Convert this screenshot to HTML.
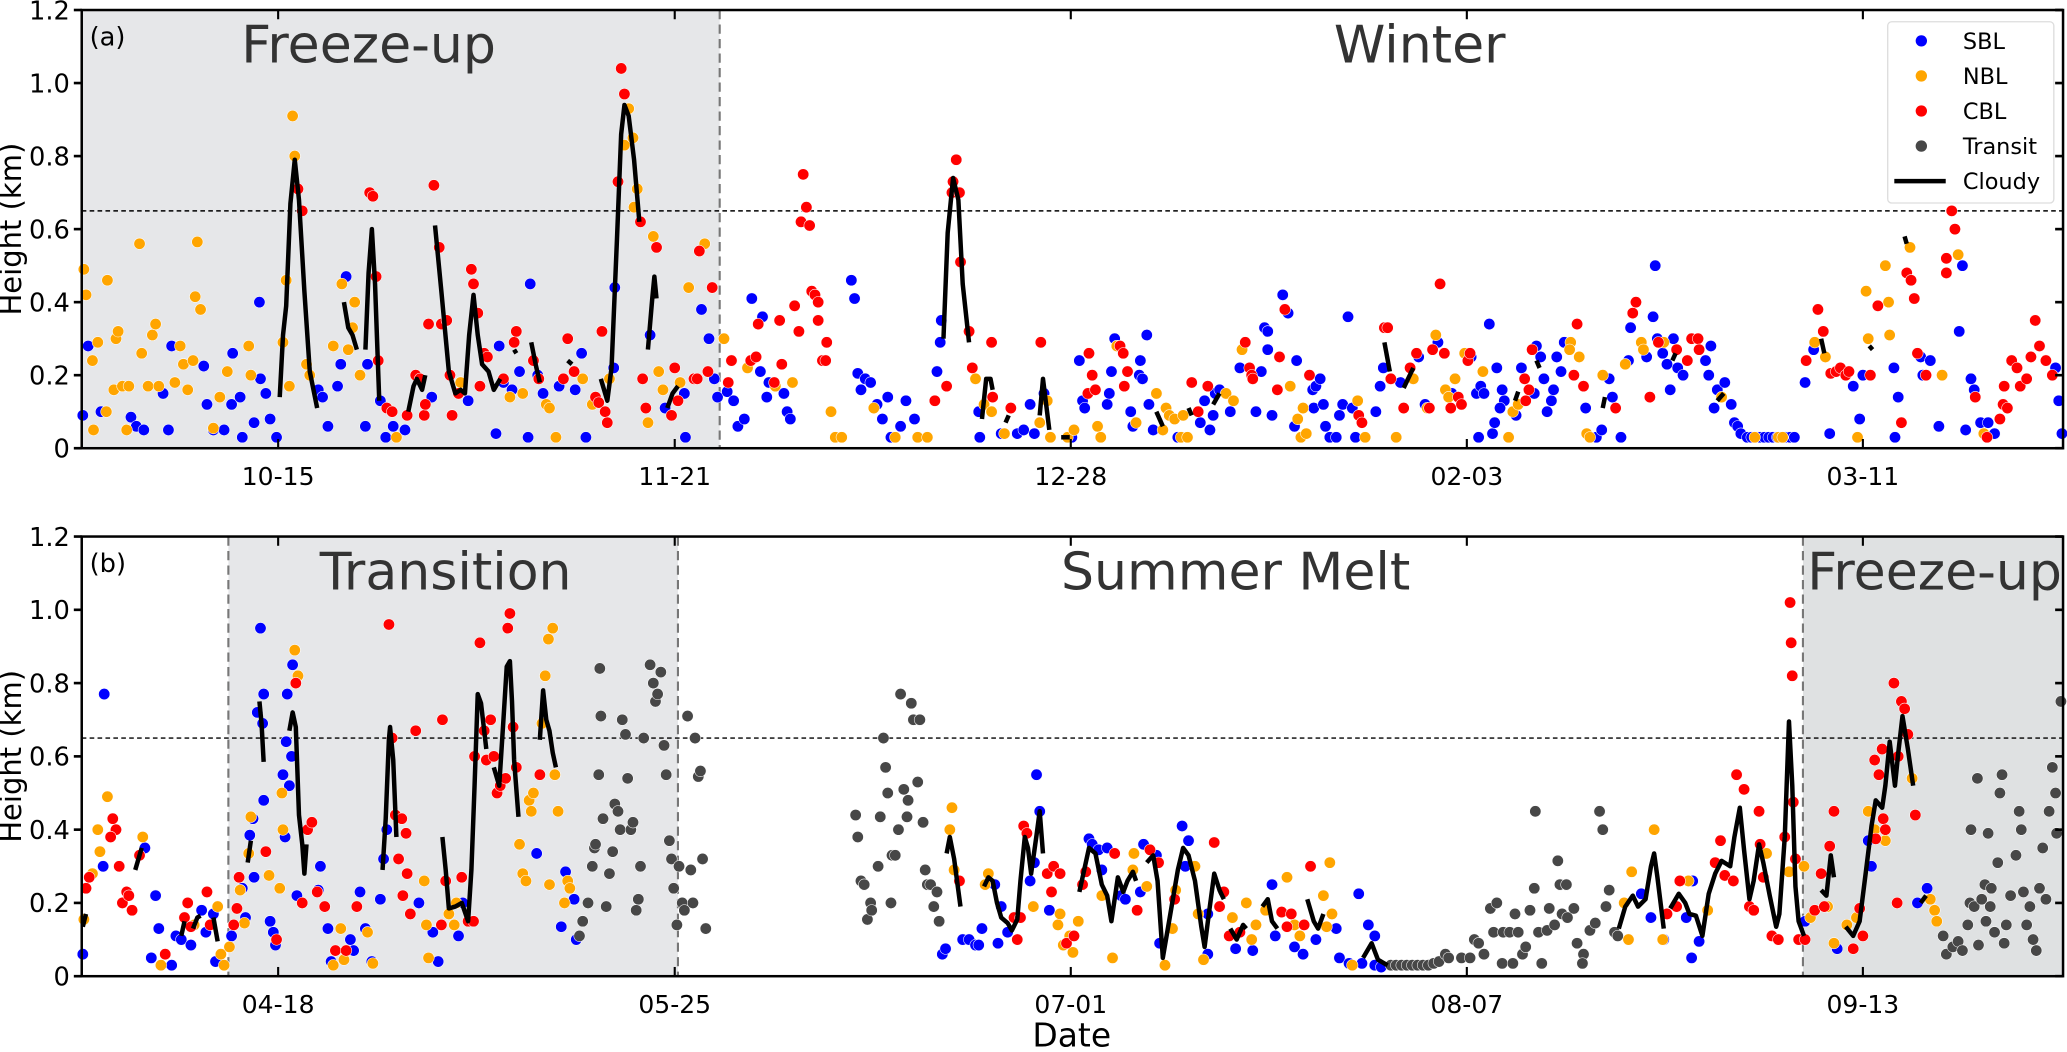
<!DOCTYPE html>
<html><head><meta charset="utf-8"><style>
html,body{margin:0;padding:0;background:#fff;}
svg{display:block;font-family:"DejaVu Sans","Liberation Sans",sans-serif;}
</style></head><body>
<svg id="chart" width="2067" height="1052" viewBox="0 0 1568 798" preserveAspectRatio="none" xmlns="http://www.w3.org/2000/svg">
<g id="root"></g>
</svg>
<script>
// ---------- data (day index from panel start, height km) ----------
const tickDaysA = [18.35, 55.4, 92.4, 129.4, 166.4];
const tickLabelsA = ["10-15","11-21","12-28","02-03","03-11"];
const tickLabelsB = ["04-18","05-25","07-01","08-07","09-13"];
const yTicks = [0,0.2,0.4,0.6,0.8,1.0,1.2];
const yTickLabels = ["0","0.2","0.4","0.6","0.8","1.0","1.2"];
const thresholdKm = 0.65;
const regionsA = [[0,59.6,"Freeze-up",true,26.8],[59.6,185.1,"Winter",false,125.0]];
const regionsB = [[0,13.7,"",false,0],[13.7,55.7,"Transition",true,34.0],[55.7,160.8,"Summer Melt",false,107.8],[160.8,185.1,"Freeze-up",true,173.1]];

const sblA = [[0.1,0.09],[0.6,0.28],[1.8,0.10],[4.6,0.085],[5.1,0.06],[5.8,0.05],[7.6,0.15],[8.1,0.05],[8.4,0.28],[11.4,0.225],[11.7,0.12],[12.3,0.05],[13.3,0.05],[14.0,0.12],[14.1,0.26],[14.8,0.14],[15.0,0.03],[16.1,0.07],[16.6,0.40],[16.7,0.19],[17.2,0.15],[17.6,0.08],[18.2,0.03],[22.1,0.16],[22.5,0.14],[23.0,0.06],[23.9,0.17],[24.2,0.23],[24.7,0.47],[26.5,0.06],[26.7,0.23],[27.9,0.13],[28.4,0.03],[29.1,0.06],[30.2,0.05],[32.7,0.14],[36.1,0.13],[38.7,0.04],[39.0,0.28],[39.4,0.18],[40.2,0.16],[40.9,0.21],[41.7,0.03],[41.9,0.45],[42.6,0.20],[43.1,0.15],[44.6,0.17],[46.1,0.16],[46.7,0.26],[47.1,0.03],[49.8,0.44],[49.7,0.22],[53.1,0.31],[54.5,0.11],[56.3,0.15],[56.4,0.03],[57.9,0.38],[58.6,0.30],[59.1,0.19],[59.4,0.14],[60.3,0.155],[60.9,0.13],[61.3,0.06],[61.9,0.08],[62.6,0.41],[63.4,0.21],[63.6,0.36],[64.0,0.14],[64.2,0.18],[65.6,0.15],[65.9,0.10],[66.2,0.08],[71.9,0.46],[72.2,0.41],[72.5,0.205],[72.8,0.16],[73.2,0.19],[73.7,0.18],[74.3,0.12],[74.8,0.08],[75.3,0.14],[75.6,0.03],[76.5,0.06],[77.0,0.13],[77.8,0.08],[79.9,0.21],[80.2,0.29],[80.3,0.35],[83.9,0.03],[83.8,0.10],[85.9,0.04],[87.4,0.04],[88.0,0.05],[88.6,0.12],[89.0,0.04],[89.9,0.15],[92.5,0.03],[93.2,0.24],[93.5,0.13],[93.7,0.11],[95.8,0.12],[96.0,0.15],[96.2,0.21],[96.5,0.30],[98.0,0.10],[98.2,0.06],[98.8,0.20],[98.9,0.24],[99.1,0.19],[99.5,0.31],[99.7,0.12],[100.1,0.05],[102.4,0.03],[104.5,0.07],[104.9,0.13],[105.4,0.05],[105.7,0.09],[105.9,0.15],[106.3,0.16],[107.3,0.10],[108.2,0.22],[109.7,0.10],[110.2,0.21],[110.5,0.33],[110.8,0.32],[110.8,0.27],[111.2,0.09],[112.2,0.42],[112.7,0.37],[113.3,0.06],[113.5,0.24],[115.0,0.16],[115.3,0.17],[115.7,0.19],[115.1,0.11],[116.0,0.12],[116.2,0.06],[116.6,0.03],[117.2,0.03],[117.5,0.09],[117.8,0.12],[118.3,0.36],[118.7,0.11],[119.0,0.03],[120.9,0.10],[121.3,0.17],[121.6,0.22],[123.2,0.18],[124.9,0.25],[125.5,0.12],[126.7,0.29],[128.0,0.15],[129.8,0.25],[130.3,0.15],[130.5,0.03],[130.7,0.17],[131.0,0.15],[131.5,0.34],[131.8,0.04],[132.0,0.07],[132.2,0.22],[132.7,0.16],[132.9,0.13],[132.5,0.11],[134.0,0.09],[134.5,0.22],[135.7,0.15],[135.9,0.28],[136.3,0.25],[136.6,0.19],[136.9,0.10],[137.3,0.13],[137.5,0.16],[137.8,0.25],[138.2,0.21],[138.5,0.29],[140.5,0.11],[141.5,0.03],[142.0,0.05],[142.7,0.19],[143.0,0.14],[143.8,0.03],[144.5,0.24],[144.7,0.33],[146.2,0.25],[146.8,0.36],[147.0,0.50],[147.2,0.30],[147.7,0.26],[148.1,0.23],[148.4,0.16],[148.7,0.30],[149.1,0.22],[149.6,0.20],[151.7,0.24],[152.0,0.20],[152.2,0.28],[152.5,0.11],[152.8,0.16],[153.5,0.18],[154.1,0.12],[154.4,0.07],[154.7,0.06],[155.0,0.04],[155.6,0.03],[156.0,0.03],[156.4,0.03],[156.8,0.03],[157.2,0.03],[157.6,0.03],[158.0,0.03],[158.4,0.03],[158.8,0.03],[159.2,0.03],[159.6,0.03],[160.0,0.03],[161.0,0.18],[161.8,0.27],[163.3,0.04],[165.5,0.17],[166.1,0.08],[166.4,0.20],[169.3,0.22],[169.4,0.03],[169.7,0.14],[171.8,0.25],[172.0,0.20],[172.7,0.24],[173.5,0.06],[175.4,0.32],[175.7,0.50],[176.0,0.05],[176.5,0.19],[176.8,0.16],[177.4,0.07],[178.1,0.07],[178.7,0.04],[184.4,0.22],[184.7,0.13],[185.0,0.04]];
const nblA = [[0.2,0.49],[0.4,0.42],[1.0,0.24],[1.1,0.05],[1.5,0.29],[2.3,0.10],[2.4,0.46],[3.0,0.16],[3.2,0.30],[3.4,0.32],[3.8,0.17],[4.2,0.05],[4.4,0.17],[5.4,0.56],[5.6,0.26],[6.2,0.17],[6.6,0.31],[6.9,0.34],[7.2,0.17],[8.7,0.18],[9.2,0.28],[9.5,0.23],[9.9,0.16],[10.4,0.24],[10.6,0.415],[10.8,0.565],[11.1,0.38],[12.3,0.055],[12.9,0.14],[13.6,0.21],[15.6,0.28],[15.8,0.20],[18.8,0.29],[19.1,0.46],[19.4,0.17],[19.7,0.91],[19.9,0.80],[21.0,0.23],[21.3,0.20],[23.5,0.28],[24.3,0.45],[24.9,0.27],[25.5,0.40],[25.3,0.33],[26.0,0.20],[29.4,0.03],[35.4,0.18],[40.0,0.14],[41.2,0.15],[43.4,0.12],[43.7,0.11],[44.3,0.03],[46.8,0.19],[47.7,0.12],[49.3,0.19],[50.7,0.83],[51.1,0.93],[51.5,0.85],[51.9,0.71],[51.6,0.66],[52.9,0.07],[53.4,0.58],[53.9,0.21],[54.3,0.16],[55.9,0.18],[56.7,0.44],[58.2,0.56],[60.0,0.30],[62.2,0.22],[64.8,0.17],[66.4,0.18],[70.0,0.10],[70.4,0.03],[71.0,0.03],[74.0,0.11],[76.0,0.03],[78.1,0.03],[79.0,0.03],[83.5,0.19],[84.3,0.12],[85.0,0.10],[86.2,0.04],[89.5,0.07],[90.2,0.13],[90.5,0.03],[92.1,0.03],[92.7,0.05],[94.9,0.06],[95.2,0.03],[96.7,0.28],[98.5,0.07],[100.4,0.15],[101.0,0.05],[101.3,0.11],[101.6,0.09],[102.1,0.08],[102.7,0.03],[102.9,0.09],[103.3,0.03],[106.9,0.15],[107.6,0.13],[108.4,0.27],[112.9,0.17],[113.6,0.08],[114.1,0.11],[113.9,0.03],[114.4,0.04],[119.2,0.13],[119.9,0.03],[122.8,0.03],[124.4,0.19],[125.7,0.11],[126.5,0.31],[127.4,0.16],[127.7,0.14],[128.3,0.19],[129.2,0.26],[130.9,0.21],[133.3,0.03],[133.7,0.10],[134.2,0.12],[139.1,0.29],[139.0,0.27],[139.9,0.25],[140.6,0.04],[140.9,0.03],[142.1,0.20],[144.2,0.23],[145.7,0.29],[145.9,0.27],[147.8,0.29],[151.1,0.27],[153.2,0.14],[156.3,0.03],[158.5,0.03],[158.9,0.03],[161.9,0.29],[162.9,0.25],[165.9,0.03],[166.7,0.43],[166.9,0.30],[168.5,0.50],[168.8,0.40],[168.9,0.31],[170.8,0.55],[173.8,0.20],[175.3,0.53],[177.7,0.04]];
const cblA = [[20.2,0.71],[20.6,0.65],[26.9,0.70],[27.2,0.69],[27.5,0.47],[27.7,0.24],[28.5,0.11],[29.0,0.10],[30.4,0.09],[31.2,0.20],[31.6,0.19],[32.0,0.09],[32.1,0.12],[32.4,0.34],[32.9,0.72],[33.4,0.55],[33.6,0.34],[34.1,0.35],[34.4,0.20],[34.6,0.09],[35.2,0.15],[36.4,0.49],[36.6,0.45],[37.0,0.37],[37.2,0.17],[37.6,0.26],[37.9,0.25],[39.4,0.19],[40.4,0.29],[40.6,0.32],[42.2,0.24],[42.7,0.19],[45.0,0.19],[45.4,0.30],[46.0,0.21],[48.0,0.14],[48.3,0.125],[48.6,0.32],[48.9,0.10],[49.1,0.07],[50.1,0.73],[50.4,1.04],[50.7,0.97],[52.2,0.62],[52.4,0.19],[52.7,0.11],[53.7,0.55],[55.1,0.09],[55.4,0.22],[55.7,0.13],[57.2,0.19],[57.5,0.19],[57.7,0.54],[58.5,0.21],[58.9,0.44],[60.4,0.18],[60.7,0.24],[62.5,0.24],[63.0,0.25],[63.2,0.34],[64.7,0.18],[65.2,0.35],[65.4,0.23],[66.6,0.39],[67.0,0.32],[67.2,0.62],[67.4,0.75],[67.7,0.66],[68.0,0.61],[68.2,0.43],[68.5,0.42],[68.8,0.40],[68.8,0.35],[69.2,0.24],[69.5,0.24],[69.6,0.29],[79.7,0.13],[80.8,0.17],[81.3,0.70],[81.4,0.73],[81.7,0.79],[82.0,0.70],[82.1,0.51],[82.9,0.32],[83.2,0.22],[85.0,0.29],[85.1,0.14],[86.8,0.11],[89.6,0.29],[94.0,0.15],[94.1,0.26],[94.4,0.20],[94.7,0.16],[97.0,0.28],[97.3,0.26],[97.4,0.17],[97.7,0.21],[103.7,0.18],[104.3,0.10],[105.2,0.17],[108.7,0.29],[109.1,0.22],[109.3,0.20],[109.4,0.19],[111.7,0.16],[111.9,0.25],[112.4,0.38],[114.7,0.20],[119.3,0.09],[119.6,0.07],[121.7,0.33],[122.0,0.33],[122.3,0.19],[123.5,0.11],[124.1,0.22],[124.7,0.26],[125.9,0.11],[126.2,0.27],[126.9,0.45],[127.3,0.26],[127.9,0.11],[128.6,0.14],[128.9,0.12],[129.5,0.24],[129.7,0.26],[134.8,0.19],[134.9,0.13],[135.2,0.16],[135.5,0.27],[139.4,0.20],[139.7,0.34],[140.3,0.17],[143.3,0.11],[144.9,0.37],[145.2,0.40],[146.5,0.14],[147.3,0.29],[149.0,0.27],[150.0,0.24],[150.4,0.30],[151.0,0.30],[151.1,0.27],[161.1,0.24],[162.2,0.38],[162.7,0.32],[163.4,0.205],[163.9,0.21],[164.3,0.22],[164.8,0.20],[165.1,0.21],[167.1,0.20],[167.8,0.39],[170.0,0.07],[170.5,0.48],[170.9,0.46],[171.2,0.41],[171.5,0.26],[172.3,0.20],[174.2,0.52],[174.2,0.48],[174.7,0.65],[175.0,0.60],[176.9,0.14],[178.0,0.03],[179.2,0.08],[179.5,0.12],[179.9,0.11],[179.6,0.17],[180.3,0.24],[180.8,0.22],[181.1,0.17],[181.7,0.19],[182.1,0.25],[182.5,0.35],[182.9,0.28],[183.5,0.24],[184.1,0.20]];
const transitA = [];
const cloudyA = [
 [[18.5,0.14],[18.8,0.31],[19.1,0.39],[19.5,0.67],[19.9,0.79],[20.3,0.68],[20.8,0.43],[21.3,0.21],[22.0,0.11]],
 [[24.5,0.40],[24.9,0.33],[25.3,0.31],[25.7,0.27]],
 [[26.5,0.27],[26.8,0.48],[27.1,0.60],[27.4,0.45],[27.8,0.13]],
 [[30.5,0.10],[31.0,0.17],[31.3,0.19],[31.8,0.16],[32.1,0.20]],
 [[33.0,0.61],[33.6,0.43],[34.3,0.21],[34.9,0.15],[35.4,0.16],[35.8,0.15],[36.2,0.31],[36.6,0.42],[37.0,0.31],[37.4,0.23],[38.0,0.21],[38.5,0.16],[39.1,0.19]],
 [[40.4,0.27],[40.6,0.26]],
 [[42.0,0.29],[42.4,0.23],[42.8,0.18]],
 [[45.4,0.24],[45.8,0.23]],
 [[48.5,0.19],[49.1,0.13],[49.5,0.22],[50.0,0.57],[50.4,0.86],[50.7,0.94],[51.1,0.91],[51.6,0.79],[52.1,0.62]],
 [[52.9,0.27],[53.3,0.41],[53.5,0.47],[53.7,0.41]],
 [[54.7,0.11],[55.2,0.15],[55.7,0.17]],
 [[80.5,0.30],[80.9,0.59],[81.4,0.74],[81.9,0.68],[82.3,0.45],[82.9,0.29]],
 [[84.1,0.08],[84.5,0.19],[84.9,0.19],[85.1,0.16]],
 [[86.3,0.07],[86.6,0.09]],
 [[89.5,0.09],[89.8,0.19],[90.4,0.05]],
 [[91.5,0.03],[92.3,0.03]],
 [[100.4,0.10],[101.0,0.06]],
 [[103.4,0.11],[103.7,0.09]],
 [[105.7,0.12],[106.3,0.15]],
 [[121.7,0.29],[122.2,0.21]],
 [[123.5,0.165],[124.4,0.22]],
 [[133.9,0.13],[134.2,0.155]],
 [[135.9,0.24],[136.2,0.22]],
 [[142.1,0.11],[142.3,0.14]],
 [[148.6,0.24],[148.9,0.26]],
 [[152.8,0.13],[153.4,0.15]],
 [[162.5,0.30],[162.8,0.26]],
 [[167.0,0.28],[167.3,0.27]],
 [[170.3,0.58],[170.5,0.56]]
];

const sblB = [[0.1,0.06],[2.1,0.77],[2.0,0.30],[5.9,0.35],[6.9,0.22],[6.5,0.05],[7.2,0.13],[8.4,0.03],[8.8,0.11],[9.3,0.10],[10.2,0.085],[11.2,0.18],[11.6,0.12],[12.3,0.17],[12.5,0.04],[14.0,0.11],[15.0,0.24],[15.3,0.16],[15.7,0.385],[16.0,0.43],[16.1,0.27],[16.4,0.72],[16.7,0.95],[16.9,0.69],[17.0,0.77],[17.0,0.48],[17.6,0.15],[17.9,0.12],[18.1,0.085],[18.8,0.55],[19.0,0.38],[19.1,0.64],[19.2,0.77],[19.4,0.52],[19.6,0.60],[19.7,0.85],[20.1,0.22],[22.1,0.235],[22.3,0.30],[23.0,0.13],[23.3,0.04],[25.1,0.10],[25.4,0.07],[26.0,0.23],[26.5,0.13],[27.1,0.04],[27.9,0.21],[28.2,0.32],[28.5,0.40],[31.5,0.20],[32.8,0.12],[33.3,0.04],[35.2,0.11],[35.6,0.20],[42.5,0.335],[44.8,0.135],[45.2,0.285],[46.0,0.21],[46.2,0.10],[80.4,0.06],[80.7,0.075],[82.3,0.10],[82.9,0.10],[83.5,0.085],[83.8,0.085],[84.1,0.13],[85.3,0.25],[85.6,0.09],[85.9,0.19],[86.5,0.12],[88.6,0.26],[89.0,0.31],[89.2,0.55],[89.5,0.45],[90.4,0.18],[94.1,0.375],[94.4,0.36],[95.0,0.345],[95.3,0.29],[95.8,0.35],[97.1,0.22],[97.5,0.21],[98.9,0.23],[99.2,0.36],[100.4,0.33],[100.7,0.09],[102.8,0.41],[103.1,0.30],[103.4,0.37],[105.2,0.17],[105.2,0.06],[107.8,0.075],[109.4,0.07],[111.2,0.25],[111.5,0.11],[113.3,0.08],[114.1,0.06],[115.3,0.10],[117.2,0.13],[117.5,0.05],[119.3,0.225],[120.2,0.14],[120.8,0.11],[118.4,0.035],[119.6,0.035],[120.8,0.03],[121.4,0.025],[145.7,0.225],[146.6,0.16],[147.8,0.10],[149.9,0.16],[150.5,0.26],[151.1,0.095],[150.4,0.05],[161.0,0.15],[164.0,0.075],[166.9,0.37],[167.2,0.30],[171.5,0.20],[172.4,0.24]];
const nblB = [[0.2,0.155],[1.0,0.28],[1.5,0.40],[1.7,0.34],[2.4,0.49],[5.7,0.38],[7.4,0.03],[10.5,0.14],[12.7,0.19],[13.0,0.06],[13.3,0.03],[13.8,0.08],[14.8,0.235],[15.2,0.145],[15.6,0.335],[15.8,0.435],[17.5,0.275],[18.5,0.24],[18.7,0.50],[18.8,0.40],[19.9,0.89],[20.2,0.82],[23.5,0.03],[24.2,0.13],[24.5,0.045],[26.7,0.12],[27.2,0.035],[32.0,0.26],[32.2,0.14],[32.4,0.05],[34.3,0.17],[34.8,0.14],[35.0,0.20],[40.9,0.36],[41.2,0.28],[41.5,0.26],[41.8,0.48],[42.0,0.45],[42.2,0.50],[43.0,0.69],[43.3,0.82],[43.6,0.92],[44.0,0.95],[44.2,0.55],[44.5,0.45],[43.7,0.25],[45.1,0.20],[45.4,0.26],[45.6,0.24],[81.1,0.40],[81.3,0.46],[81.5,0.29],[84.7,0.28],[84.4,0.25],[88.9,0.19],[91.2,0.14],[91.4,0.17],[91.7,0.085],[92.3,0.11],[92.6,0.065],[93.1,0.15],[95.3,0.22],[96.3,0.05],[98.2,0.29],[98.3,0.335],[99.5,0.245],[101.2,0.03],[101.9,0.13],[102.2,0.235],[104.0,0.30],[104.3,0.17],[104.8,0.045],[107.5,0.16],[108.8,0.20],[109.3,0.10],[109.7,0.14],[110.6,0.18],[112.6,0.27],[113.3,0.14],[113.8,0.11],[116.0,0.22],[116.3,0.135],[116.6,0.31],[116.8,0.17],[118.7,0.03],[144.1,0.20],[144.5,0.10],[144.8,0.285],[146.9,0.40],[147.7,0.10],[150.1,0.26],[151.9,0.18],[157.4,0.335],[159.5,0.285],[160.9,0.30],[161.5,0.16],[163.1,0.19],[163.7,0.09],[164.9,0.14],[165.8,0.16],[166.9,0.45],[167.5,0.40],[168.5,0.37],[171.0,0.54],[172.7,0.21],[173.1,0.18],[173.3,0.15]];
const cblB = [[0.4,0.24],[0.7,0.27],[2.9,0.43],[3.2,0.40],[2.7,0.38],[3.5,0.30],[3.8,0.20],[4.2,0.23],[4.4,0.22],[4.7,0.18],[5.4,0.33],[7.8,0.06],[9.6,0.16],[9.9,0.20],[10.2,0.135],[11.7,0.23],[12.0,0.14],[14.2,0.14],[14.5,0.185],[14.7,0.27],[17.2,0.34],[18.2,0.10],[20.0,0.80],[20.6,0.20],[21.1,0.40],[21.5,0.42],[22.0,0.23],[22.7,0.19],[23.7,0.07],[24.7,0.07],[25.7,0.19],[28.7,0.96],[29.0,0.65],[29.3,0.44],[29.9,0.43],[29.6,0.32],[30.3,0.39],[30.4,0.28],[30.0,0.22],[30.7,0.17],[31.2,0.67],[33.6,0.14],[33.7,0.70],[34.0,0.26],[35.5,0.27],[36.1,0.15],[36.6,0.15],[36.7,0.60],[37.2,0.91],[37.6,0.67],[37.8,0.59],[38.2,0.70],[38.5,0.60],[38.8,0.50],[39.1,0.52],[39.6,0.54],[39.8,0.95],[40.0,0.99],[40.3,0.68],[40.6,0.57],[42.8,0.55],[82.0,0.26],[87.1,0.16],[87.4,0.10],[87.7,0.16],[88.0,0.41],[88.3,0.39],[90.2,0.28],[90.6,0.23],[90.8,0.30],[91.4,0.28],[92.0,0.09],[92.7,0.11],[93.5,0.25],[93.8,0.285],[96.5,0.335],[98.6,0.18],[99.8,0.345],[100.6,0.31],[102.1,0.21],[105.8,0.365],[106.3,0.19],[106.7,0.23],[107.2,0.11],[108.2,0.12],[112.1,0.175],[112.6,0.135],[113.0,0.17],[114.2,0.14],[114.8,0.30],[148.1,0.17],[149.0,0.19],[149.3,0.26],[152.6,0.31],[153.1,0.37],[153.5,0.275],[154.3,0.26],[154.6,0.55],[155.3,0.51],[155.8,0.19],[156.2,0.18],[156.7,0.45],[156.8,0.36],[157.1,0.27],[157.9,0.11],[158.5,0.10],[159.1,0.38],[159.6,1.02],[159.7,0.91],[159.8,0.82],[159.9,0.475],[160.1,0.32],[160.4,0.10],[161.0,0.10],[161.9,0.18],[162.5,0.28],[162.8,0.19],[163.3,0.355],[163.7,0.45],[165.5,0.075],[166.1,0.185],[166.4,0.11],[167.6,0.375],[167.5,0.59],[167.9,0.55],[168.2,0.62],[168.3,0.43],[168.5,0.40],[169.3,0.80],[170.0,0.75],[170.3,0.73],[170.6,0.66],[171.3,0.44],[169.6,0.20],[169.7,0.60]];
const transitB = [[46.5,0.11],[46.8,0.15],[47.3,0.20],[47.7,0.30],[47.9,0.35],[48.0,0.36],[48.5,0.71],[48.4,0.84],[48.3,0.55],[48.7,0.43],[49.0,0.19],[49.3,0.28],[49.6,0.34],[49.8,0.47],[50.1,0.45],[50.3,0.40],[50.5,0.70],[50.8,0.66],[51.0,0.54],[51.3,0.40],[51.5,0.42],[51.8,0.18],[52.0,0.21],[52.2,0.30],[52.5,0.65],[53.1,0.85],[53.4,0.80],[53.6,0.75],[53.8,0.77],[54.1,0.83],[54.4,0.63],[54.6,0.55],[54.9,0.37],[55.1,0.32],[55.3,0.24],[55.6,0.14],[55.8,0.30],[56.1,0.20],[56.3,0.18],[56.6,0.71],[56.9,0.29],[57.1,0.20],[57.3,0.65],[57.6,0.545],[57.8,0.56],[58.0,0.32],[58.3,0.13],
 [72.3,0.44],[72.5,0.38],[72.8,0.26],[73.1,0.25],[73.4,0.155],[73.7,0.20],[73.8,0.18],[74.4,0.30],[74.6,0.435],[74.9,0.65],[75.1,0.57],[75.3,0.50],[75.6,0.20],[75.7,0.33],[76.0,0.33],[76.3,0.40],[76.5,0.77],[76.8,0.51],[77.1,0.435],[77.2,0.48],[77.5,0.745],[77.7,0.70],[78.1,0.53],[78.3,0.70],[78.6,0.42],[78.8,0.29],[79.0,0.25],[79.3,0.25],[79.6,0.19],[79.9,0.23],[80.1,0.15],
 [122.3,0.03],[122.8,0.03],[123.3,0.03],[123.8,0.03],[124.3,0.03],[124.8,0.03],[125.3,0.03],[125.8,0.03],[126.3,0.035],[126.8,0.04],[127.4,0.06],[127.7,0.05],[128.9,0.05],[129.7,0.05],[130.1,0.10],[130.5,0.09],[131.0,0.06],[131.6,0.185],[132.2,0.20],[131.9,0.12],[132.8,0.12],[133.4,0.12],[132.7,0.035],[133.7,0.035],[133.9,0.17],[134.2,0.12],[134.6,0.06],[134.9,0.08],[135.3,0.18],[135.7,0.24],[135.8,0.45],[136.1,0.12],[136.4,0.035],[136.9,0.125],[137.1,0.185],[137.6,0.14],[137.9,0.315],[138.1,0.25],[138.3,0.17],[138.7,0.25],[138.8,0.16],[139.4,0.185],[139.7,0.09],[140.3,0.06],[140.2,0.035],[140.9,0.125],[141.4,0.145],[141.8,0.45],[142.1,0.40],[142.4,0.19],[142.7,0.235],[143.2,0.12],[143.5,0.11],
 [173.9,0.11],[174.2,0.06],[174.8,0.08],[175.3,0.095],[175.7,0.07],[176.2,0.14],[176.4,0.20],[176.5,0.40],[176.8,0.19],[177.1,0.54],[177.2,0.085],[177.5,0.21],[177.8,0.25],[177.9,0.15],[178.1,0.39],[178.3,0.19],[178.4,0.24],[178.7,0.12],[179.0,0.31],[179.2,0.50],[179.4,0.55],[179.6,0.09],[179.8,0.14],[180.2,0.22],[180.7,0.33],[181.0,0.45],[181.2,0.40],[181.4,0.23],[181.7,0.14],[182.0,0.19],[182.3,0.10],[182.6,0.07],[182.9,0.24],[183.2,0.35],[183.5,0.21],[183.8,0.45],[184.1,0.57],[184.4,0.50],[184.5,0.39],[184.9,0.75]];
const cloudyB = [
 [[0.1,0.135],[0.4,0.17]],
 [[5.0,0.29],[5.6,0.35]],
 [[9.3,0.11],[9.6,0.15]],
 [[10.4,0.13],[10.8,0.16],[11.1,0.165]],
 [[12.3,0.16],[12.7,0.095]],
 [[15.5,0.31],[15.8,0.37]],
 [[16.6,0.75],[16.8,0.69],[17.0,0.585]],
 [[19.4,0.67],[19.7,0.72],[20.0,0.68],[20.3,0.44],[20.6,0.36],[20.8,0.28],[21.0,0.36]],
 [[28.1,0.29],[28.4,0.43],[28.7,0.645],[28.8,0.68],[29.1,0.59],[29.4,0.38]],
 [[33.7,0.38],[34.0,0.29],[34.3,0.185],[34.9,0.19],[35.5,0.20],[36.1,0.15],[36.4,0.29],[36.7,0.52],[37.0,0.77],[37.3,0.745],[37.8,0.62]],
 [[38.5,0.57],[39.0,0.52],[39.4,0.70],[39.7,0.845],[40.0,0.86],[40.2,0.75],[40.4,0.59],[40.8,0.435]],
 [[42.8,0.645],[43.1,0.78],[43.4,0.70],[43.7,0.67],[44.0,0.61],[44.3,0.57]],
 [[80.8,0.335],[81.1,0.38],[81.5,0.32],[82.1,0.19]],
 [[84.3,0.245],[84.7,0.27],[85.1,0.26],[85.5,0.20],[85.9,0.16],[86.5,0.145],[86.9,0.125],[87.4,0.155],[87.7,0.26],[88.1,0.38],[88.4,0.35],[88.7,0.28],[89.2,0.385],[89.5,0.45],[89.8,0.335]],
 [[93.2,0.23],[94.1,0.35],[94.7,0.335],[95.3,0.25],[95.8,0.22],[96.2,0.15],[96.8,0.27],[97.3,0.23],[97.7,0.26],[98.2,0.285],[98.5,0.26]],
 [[99.5,0.31],[100.1,0.33],[100.5,0.26],[101.0,0.05],[101.7,0.17],[102.4,0.29],[102.9,0.35],[103.4,0.33],[104.0,0.26],[104.6,0.135],[104.9,0.08],[105.3,0.17],[105.8,0.28],[106.3,0.235],[106.7,0.21]],
 [[107.3,0.13],[107.9,0.10],[108.5,0.14],[108.8,0.13]],
 [[110.3,0.19],[110.8,0.21],[111.2,0.15],[111.7,0.13]],
 [[114.5,0.21],[115.1,0.15],[115.5,0.13],[116.0,0.17]],
 [[119.7,0.05],[120.5,0.09],[121.1,0.045],[122.0,0.03]],
 [[143.6,0.13],[144.2,0.19],[144.9,0.22],[145.4,0.19],[146.1,0.21],[146.6,0.30],[146.9,0.335],[147.2,0.27],[147.8,0.13]],
 [[148.4,0.185],[149.2,0.225],[149.8,0.20],[150.2,0.17],[150.8,0.165],[151.4,0.11],[152.0,0.225],[152.6,0.28],[153.2,0.315],[154.0,0.30],[154.4,0.38],[154.9,0.46],[155.3,0.345],[155.8,0.21],[156.2,0.26],[156.7,0.36],[157.1,0.31],[157.7,0.22],[158.3,0.135],[158.6,0.17],[159.1,0.38],[159.5,0.695],[159.8,0.52],[160.1,0.245],[160.4,0.15],[160.9,0.11]],
 [[162.5,0.235],[163.0,0.22],[163.4,0.33],[163.7,0.27]],
 [[164.8,0.135],[165.5,0.11],[166.1,0.15],[166.7,0.29],[167.2,0.41],[167.6,0.48],[168.2,0.46],[168.5,0.52],[168.9,0.64],[169.4,0.52],[169.7,0.61],[170.1,0.71],[170.6,0.62],[171.1,0.52]],
 [[171.8,0.20],[172.3,0.22]]
];

// ---------- layout ----------
const NS = "http://www.w3.org/2000/svg";
const root = document.getElementById("root");
const X0 = 62, X1 = 1565, DAYMAX = 185.1;
const panels = [
  {key:"a", top:7.6, bot:340, ticks:tickLabelsA, regions:regionsA, sbl:sblA, nbl:nblA, cbl:cblA, tr:transitA, cloud:cloudyA, label:"(a)", shadeColor:"#e6e7e9"},
  {key:"b", top:407, bot:740.5, ticks:tickLabelsB, regions:regionsB, sbl:sblB, nbl:nblB, cbl:cblB, tr:transitB, cloud:cloudyB, label:"(b)", shadeColor:"#e6e7e9"}
];
function xs(d){ return X0 + d/DAYMAX*(X1-X0); }
function mk(tag, attrs, parent){
  const e = document.createElementNS(NS, tag);
  for (const k in attrs) e.setAttribute(k, attrs[k]);
  (parent||root).appendChild(e);
  return e;
}

panels.forEach(p => {
  const ys = km => p.bot - km/1.2*(p.bot-p.top);
  const g = mk("g", {});
  
  
  p.regions.forEach((r,i) => {
    if (r[3]) {
      const rc = mk("rect", {x:xs(r[0]), y:p.top, width:xs(r[1])-xs(r[0]), height:p.bot-p.top, fill:p.key==="b"&&i===3?"#dfe1e2":p.shadeColor}, g);
      
      
    }
    if (i>0 && (p.regions[i-1][3] || r[3])) {
      const l = mk("line", {x1:xs(r[0]), x2:xs(r[0]), y1:p.top, y2:p.bot, stroke:"#777", "stroke-width":1.6, "stroke-dasharray":"7,4"}, g);
      
      
    }
  });
  p.regions.forEach(r => {
    if (r[2]) {
      const t = mk("text", {x:xs(r[4]), y:p.top+40, "font-size":39.5, fill:"#333", "text-anchor":"middle"}, g);
      t.textContent = r[2];
      
      
    }
  });
  const th = mk("line", {x1:X0, x2:X1, y1:ys(thresholdKm), y2:ys(thresholdKm), stroke:"#000", "stroke-width":1.1, "stroke-dasharray":"3.5,2.5"}, g);
  
  
  const series = [["sbl",p.sbl,"#0000ff"],["nbl",p.nbl,"#ffa500"],["cbl",p.cbl,"#ff0000"],["transit",p.tr,"#474747"]];
  series.forEach(s => {
    const sg = mk("g", {}, g);
    
    
    s[1].forEach(pt => {
      const c = mk("circle", {cx:xs(pt[0]), cy:ys(pt[1]), r:4.3, fill:s[2], stroke:"#fff", "stroke-width":0.4}, sg);
      
      
    });
  });
  p.cloud.forEach(seg => {
    const pl = mk("polyline", {points:seg.map(q => xs(q[0]).toFixed(1)+","+ys(q[1]).toFixed(1)).join(" "), fill:"none", stroke:"#000", "stroke-width":3.4, "stroke-linejoin":"round", "stroke-linecap":"butt"}, g);
    
    
  });
  const fr = mk("rect", {x:X0, y:p.top, width:X1-X0, height:p.bot-p.top, fill:"none", stroke:"#000", "stroke-width":1.9}, g);
  
  
  yTicks.forEach((v,i) => {
    const y = ys(v);
    const t1 = mk("line", {x1:X0-6, x2:X0, y1:y, y2:y, stroke:"#000", "stroke-width":2}, g);
    
    
    const t2 = mk("line", {x1:X1-6, x2:X1, y1:y, y2:y, stroke:"#000", "stroke-width":2}, g);
    
    
    const tl = mk("text", {x:X0-9, y:y+7, "font-size":19.5, "text-anchor":"end", fill:"#000"}, g);
    tl.textContent = yTickLabels[i];
    
    
  });
  tickDaysA.forEach((d,i) => {
    const x = xs(d);
    const t1 = mk("line", {x1:x, x2:x, y1:p.bot-7, y2:p.bot, stroke:"#000", "stroke-width":1.6}, g);
    
    
    const t2 = mk("line", {x1:x, x2:x, y1:p.top, y2:p.top+7, stroke:"#000", "stroke-width":1.6}, g);
    
    
    const tl = mk("text", {x:x, y:p.bot+28, "font-size":19, "text-anchor":"middle", fill:"#000"}, g);
    tl.textContent = p.ticks[i];
    
    
  });
  const pl = mk("text", {x:X0+6, y:p.top+27, "font-size":19.5, fill:"#000"}, g);
  pl.textContent = p.label;
  
  
  const yt = mk("text", {x:0, y:0, "font-size":22, "text-anchor":"middle", fill:"#000", transform:"translate(16,"+((p.top+p.bot)/2)+") rotate(-90)"}, g);
  yt.textContent = "Height (km)";
  
  
});

const xt = mk("text", {x:813, y:794, "font-size":25, "text-anchor":"middle", fill:"#000"});
xt.textContent = "Date";



const lg = mk("g", {});


const lb = mk("rect", {x:1432, y:16.5, width:126, height:137.5, rx:3, fill:"#fff", "fill-opacity":0.85, stroke:"#ddd", "stroke-width":1}, lg);


const legendNames = ["SBL","NBL","CBL","Transit","Cloudy"];
const legendColors = ["#0000ff","#ffa500","#ff0000","#474747","#000"];
legendNames.forEach((n,i) => {
  const y = 31 + i*26.6;
  const eg = mk("g", {}, lg);
  
  
  if (i < 4) {
    const c = mk("circle", {cx:1457.5, cy:y, r:4.3, fill:legendColors[i]}, eg);
    
    
  } else {
    const l = mk("line", {x1:1437, x2:1476, y1:y, y2:y, stroke:"#000", "stroke-width":3.4}, eg);
    
    
  }
  const t = mk("text", {x:1489, y:y+6, "font-size":17, fill:"#000"}, eg);
  t.textContent = n;
  
  
});
</script>
</body></html>
